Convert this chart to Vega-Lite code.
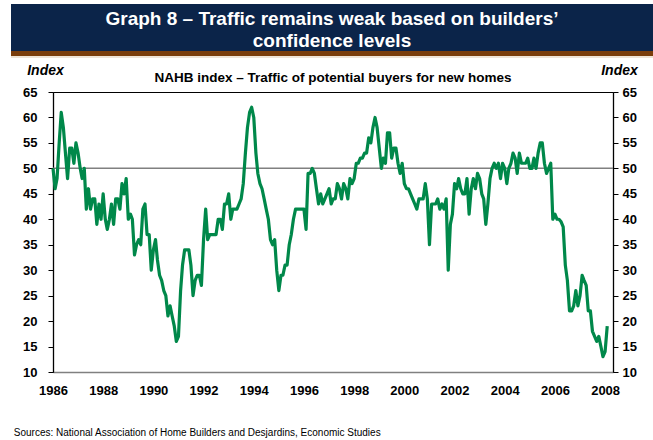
{
  "$schema": "https://vega.github.io/schema/vega-lite/v6.json",
  "padding": {"left": 11, "top": 4, "right": 0, "bottom": 0},
  "background": "white",
  "config": {"font": "Liberation Sans"},
  "spacing": 4,
  "vconcat": [
    {
      "spacing": 0,
      "vconcat": [
        {
          "width": 642,
          "height": 47,
          "view": {"fill": "#0b2449", "stroke": null},
          "data": {"values": [
            {"line": 1, "text": "Graph 8 – Traffic remains weak based on builders’"},
            {"line": 2, "text": "confidence levels"}
          ]},
          "mark": {"type": "text", "color": "white", "font": "Liberation Sans", "fontWeight": "bold", "fontSize": 19, "baseline": "middle"},
          "encoding": {
            "y": {"field": "line", "type": "ordinal", "axis": null, "scale": {"type": "point", "range": [15, 37], "padding": 0}},
            "text": {"field": "text"}
          }
        },
        {
          "width": 642,
          "height": 5,
          "view": {"stroke": null},
          "data": {"values": [{"part": "stripe"}]},
          "mark": {"type": "rect", "color": "#7a3d0b"}
        },
        {
          "width": 642,
          "height": 2,
          "view": {"stroke": null},
          "data": {"values": [{"part": "line"}]},
          "mark": {"type": "rect", "color": "#efe4d6"}
        }
      ]
    },
    {
      "spacing": 0,
      "hconcat": [
        {
          "width": 1,
          "height": 1,
          "view": {"stroke": null},
          "data": {"values": [{"part": "spacer"}]},
          "mark": {"type": "rect", "opacity": 0}
        },
        {
          "width": 560,
          "height": 280,
          "title": {"text": "NAHB index – Traffic of potential buyers for new homes", "font": "Liberation Sans", "fontSize": 13.5, "fontWeight": "bold", "anchor": "middle", "offset": -21, "color": "black"},
          "view": {"stroke": "black", "strokeWidth": 1},
          "resolve": {"axis": {"y": "independent"}},
          "layer": [
            {
              "data": {"values": [{"level": 50}]},
              "mark": {"type": "rule", "color": "#808080", "strokeWidth": 1.5},
              "encoding": {
                "y": {"field": "level", "type": "quantitative", "scale": {"domain": [10, 65], "nice": false, "zero": false},
                  "axis": {"orient": "left", "values": [10,15,20,25,30,35,40,45,50,55,60,65], "grid": false,
                    "title": "Index", "titleAngle": 0, "titleAlign": "center", "titleBaseline": "alphabetic", "titleX": -8, "titleY": -18,
                    "titleFont": "Liberation Sans", "titleFontSize": 14, "titleFontStyle": "italic", "titleFontWeight": "bold", "titleColor": "black",
                    "labelFont": "Liberation Sans", "labelFontSize": 13, "labelFontWeight": "bold", "labelColor": "black", "labelPadding": 11,
                    "labelFlush": false, "labelOverlap": false, "tickSize": 5, "tickColor": "black", "domainColor": "black", "domainWidth": 1.3}}
              }
            },
            {
              "data": {"values": [
                {"date":"1986-01-01","index":50},{"date":"1986-02-01","index":46},{"date":"1986-03-01","index":48},{"date":"1986-04-01","index":55},{"date":"1986-05-01","index":61},{"date":"1986-06-01","index":58},{"date":"1986-07-01","index":53},{"date":"1986-08-01","index":48},{"date":"1986-09-01","index":54},{"date":"1986-10-01","index":54},{"date":"1986-11-01","index":51},{"date":"1986-12-01","index":55},
                {"date":"1987-01-01","index":53},{"date":"1987-02-01","index":50},{"date":"1987-03-01","index":48},{"date":"1987-04-01","index":50},{"date":"1987-05-01","index":42},{"date":"1987-06-01","index":46},{"date":"1987-07-01","index":42},{"date":"1987-08-01","index":44},{"date":"1987-09-01","index":44},{"date":"1987-10-01","index":39},{"date":"1987-11-01","index":43},{"date":"1987-12-01","index":40},
                {"date":"1988-01-01","index":45},{"date":"1988-02-01","index":40},{"date":"1988-03-01","index":38},{"date":"1988-04-01","index":40},{"date":"1988-05-01","index":43},{"date":"1988-06-01","index":39},{"date":"1988-07-01","index":44},{"date":"1988-08-01","index":44},{"date":"1988-09-01","index":42},{"date":"1988-10-01","index":47},{"date":"1988-11-01","index":45},{"date":"1988-12-01","index":48},
                {"date":"1989-01-01","index":40},{"date":"1989-02-01","index":41},{"date":"1989-03-01","index":40},{"date":"1989-04-01","index":33},{"date":"1989-05-01","index":35},{"date":"1989-06-01","index":36},{"date":"1989-07-01","index":35},{"date":"1989-08-01","index":42},{"date":"1989-09-01","index":43},{"date":"1989-10-01","index":37},{"date":"1989-11-01","index":37},{"date":"1989-12-01","index":30},
                {"date":"1990-01-01","index":34},{"date":"1990-02-01","index":36},{"date":"1990-03-01","index":32},{"date":"1990-04-01","index":29},{"date":"1990-05-01","index":28},{"date":"1990-06-01","index":26},{"date":"1990-07-01","index":25},{"date":"1990-08-01","index":21},{"date":"1990-09-01","index":23},{"date":"1990-10-01","index":21},{"date":"1990-11-01","index":19},{"date":"1990-12-01","index":16},
                {"date":"1991-01-01","index":17},{"date":"1991-02-01","index":26},{"date":"1991-03-01","index":31},{"date":"1991-04-01","index":34},{"date":"1991-05-01","index":34},{"date":"1991-06-01","index":34},{"date":"1991-07-01","index":31},{"date":"1991-08-01","index":25},{"date":"1991-09-01","index":28},{"date":"1991-10-01","index":29},{"date":"1991-11-01","index":29},{"date":"1991-12-01","index":27},
                {"date":"1992-01-01","index":36},{"date":"1992-02-01","index":42},{"date":"1992-03-01","index":36},{"date":"1992-04-01","index":37},{"date":"1992-05-01","index":37},{"date":"1992-06-01","index":37},{"date":"1992-07-01","index":37},{"date":"1992-08-01","index":40},{"date":"1992-09-01","index":40},{"date":"1992-10-01","index":38},{"date":"1992-11-01","index":43},{"date":"1992-12-01","index":43},
                {"date":"1993-01-01","index":45},{"date":"1993-02-01","index":40},{"date":"1993-03-01","index":42},{"date":"1993-04-01","index":42},{"date":"1993-05-01","index":42},{"date":"1993-06-01","index":43},{"date":"1993-07-01","index":44},{"date":"1993-08-01","index":47},{"date":"1993-09-01","index":53},{"date":"1993-10-01","index":58},{"date":"1993-11-01","index":61},{"date":"1993-12-01","index":62},
                {"date":"1994-01-01","index":60},{"date":"1994-02-01","index":53},{"date":"1994-03-01","index":49},{"date":"1994-04-01","index":47},{"date":"1994-05-01","index":46},{"date":"1994-06-01","index":44},{"date":"1994-07-01","index":42},{"date":"1994-08-01","index":40},{"date":"1994-09-01","index":36},{"date":"1994-10-01","index":35},{"date":"1994-11-01","index":36},{"date":"1994-12-01","index":30},
                {"date":"1995-01-01","index":26},{"date":"1995-02-01","index":29},{"date":"1995-03-01","index":29},{"date":"1995-04-01","index":31},{"date":"1995-05-01","index":31},{"date":"1995-06-01","index":35},{"date":"1995-07-01","index":37},{"date":"1995-08-01","index":40},{"date":"1995-09-01","index":42},{"date":"1995-10-01","index":42},{"date":"1995-11-01","index":42},{"date":"1995-12-01","index":42},
                {"date":"1996-01-01","index":42},{"date":"1996-02-01","index":38},{"date":"1996-03-01","index":49},{"date":"1996-04-01","index":49},{"date":"1996-05-01","index":50},{"date":"1996-06-01","index":49},{"date":"1996-07-01","index":46},{"date":"1996-08-01","index":43},{"date":"1996-09-01","index":45},{"date":"1996-10-01","index":43},{"date":"1996-11-01","index":44},{"date":"1996-12-01","index":45},
                {"date":"1997-01-01","index":46},{"date":"1997-02-01","index":43},{"date":"1997-03-01","index":44},{"date":"1997-04-01","index":44},{"date":"1997-05-01","index":47},{"date":"1997-06-01","index":46},{"date":"1997-07-01","index":44},{"date":"1997-08-01","index":47},{"date":"1997-09-01","index":46},{"date":"1997-10-01","index":44},{"date":"1997-11-01","index":48},{"date":"1997-12-01","index":47},
                {"date":"1998-01-01","index":48},{"date":"1998-02-01","index":51},{"date":"1998-03-01","index":51},{"date":"1998-04-01","index":52},{"date":"1998-05-01","index":52},{"date":"1998-06-01","index":53},{"date":"1998-07-01","index":53},{"date":"1998-08-01","index":56},{"date":"1998-09-01","index":55},{"date":"1998-10-01","index":58},{"date":"1998-11-01","index":60},{"date":"1998-12-01","index":58},
                {"date":"1999-01-01","index":54},{"date":"1999-02-01","index":50},{"date":"1999-03-01","index":52},{"date":"1999-04-01","index":51},{"date":"1999-05-01","index":57},{"date":"1999-06-01","index":57},{"date":"1999-07-01","index":52},{"date":"1999-08-01","index":54},{"date":"1999-09-01","index":54},{"date":"1999-10-01","index":51},{"date":"1999-11-01","index":49},{"date":"1999-12-01","index":51},
                {"date":"2000-01-01","index":47},{"date":"2000-02-01","index":46},{"date":"2000-03-01","index":46},{"date":"2000-04-01","index":45},{"date":"2000-05-01","index":44},{"date":"2000-06-01","index":43},{"date":"2000-07-01","index":42},{"date":"2000-08-01","index":44},{"date":"2000-09-01","index":44},{"date":"2000-10-01","index":44},{"date":"2000-11-01","index":47},{"date":"2000-12-01","index":44},
                {"date":"2001-01-01","index":35},{"date":"2001-02-01","index":43},{"date":"2001-03-01","index":43},{"date":"2001-04-01","index":43},{"date":"2001-05-01","index":44},{"date":"2001-06-01","index":42},{"date":"2001-07-01","index":43},{"date":"2001-08-01","index":42},{"date":"2001-09-01","index":44},{"date":"2001-10-01","index":30},{"date":"2001-11-01","index":39},{"date":"2001-12-01","index":41},
                {"date":"2002-01-01","index":47},{"date":"2002-02-01","index":46},{"date":"2002-03-01","index":48},{"date":"2002-04-01","index":46},{"date":"2002-05-01","index":45},{"date":"2002-06-01","index":45},{"date":"2002-07-01","index":48},{"date":"2002-08-01","index":41},{"date":"2002-09-01","index":46},{"date":"2002-10-01","index":48},{"date":"2002-11-01","index":46},{"date":"2002-12-01","index":49},
                {"date":"2003-01-01","index":48},{"date":"2003-02-01","index":45},{"date":"2003-03-01","index":44},{"date":"2003-04-01","index":39},{"date":"2003-05-01","index":43},{"date":"2003-06-01","index":48},{"date":"2003-07-01","index":50},{"date":"2003-08-01","index":51},{"date":"2003-09-01","index":50},{"date":"2003-10-01","index":51},{"date":"2003-11-01","index":48},{"date":"2003-12-01","index":51},
                {"date":"2004-01-01","index":50},{"date":"2004-02-01","index":47},{"date":"2004-03-01","index":50},{"date":"2004-04-01","index":51},{"date":"2004-05-01","index":53},{"date":"2004-06-01","index":52},{"date":"2004-07-01","index":49},{"date":"2004-08-01","index":53},{"date":"2004-09-01","index":51},{"date":"2004-10-01","index":51},{"date":"2004-11-01","index":51},{"date":"2004-12-01","index":52},
                {"date":"2005-01-01","index":50},{"date":"2005-02-01","index":50},{"date":"2005-03-01","index":52},{"date":"2005-04-01","index":50},{"date":"2005-05-01","index":53},{"date":"2005-06-01","index":55},{"date":"2005-07-01","index":55},{"date":"2005-08-01","index":51},{"date":"2005-09-01","index":49},{"date":"2005-10-01","index":50},{"date":"2005-11-01","index":51},{"date":"2005-12-01","index":40},
                {"date":"2006-01-01","index":41},{"date":"2006-02-01","index":40},{"date":"2006-03-01","index":40},{"date":"2006-04-01","index":39.5},{"date":"2006-05-01","index":38.5},{"date":"2006-06-01","index":31},{"date":"2006-07-01","index":28},{"date":"2006-08-01","index":22},{"date":"2006-09-01","index":22},{"date":"2006-10-01","index":23},{"date":"2006-11-01","index":26},{"date":"2006-12-01","index":23},
                {"date":"2007-01-01","index":25},{"date":"2007-02-01","index":29},{"date":"2007-03-01","index":28},{"date":"2007-04-01","index":27},{"date":"2007-05-01","index":22},{"date":"2007-06-01","index":22},{"date":"2007-07-01","index":18},{"date":"2007-08-01","index":17},{"date":"2007-09-01","index":16},{"date":"2007-10-01","index":17},{"date":"2007-11-01","index":15},{"date":"2007-12-01","index":13},
                {"date":"2008-01-01","index":14},{"date":"2008-02-01","index":19}
              ]},
              "mark": {"type": "line", "color": "#00884a", "strokeWidth": 3.2, "strokeJoin": "round"},
              "encoding": {
                "x": {"field": "date", "type": "temporal",
                  "scale": {"type": "utc", "domain": [{"year": 1986, "month": 1, "date": 1, "utc": true}, {"year": 2008, "month": 4, "date": 25, "utc": true}], "nice": false},
                  "axis": {"orient": "bottom", "format": "%Y", "grid": false, "ticks": false, "tickSize": 0,
                    "values": [{"year":1986,"utc":true},{"year":1988,"utc":true},{"year":1990,"utc":true},{"year":1992,"utc":true},{"year":1994,"utc":true},{"year":1996,"utc":true},{"year":1998,"utc":true},{"year":2000,"utc":true},{"year":2002,"utc":true},{"year":2004,"utc":true},{"year":2006,"utc":true},{"year":2008,"utc":true}],
                    "labelFont": "Liberation Sans", "labelFontSize": 13, "labelFontWeight": "bold", "labelColor": "black", "labelPadding": 12,
                    "labelFlush": false, "labelOverlap": false, "domainColor": "#808080", "domainWidth": 1.6,
                    "title": "Sources: National Association of Home Builders and Desjardins, Economic Studies",
                    "titleFont": "Liberation Sans", "titleFontSize": 10, "titleFontWeight": "normal", "titleColor": "black",
                    "titleAlign": "left", "titleBaseline": "alphabetic", "titleX": -39.7, "titleY": 63}},
                "y": {"field": "index", "type": "quantitative", "scale": {"domain": [10, 65], "nice": false, "zero": false},
                  "axis": {"orient": "right", "values": [10,15,20,25,30,35,40,45,50,55,60,65], "grid": false,
                    "title": "Index", "titleAngle": 0, "titleAlign": "center", "titleBaseline": "alphabetic", "titleX": 6, "titleY": -18,
                    "titleFont": "Liberation Sans", "titleFontSize": 14, "titleFontStyle": "italic", "titleFontWeight": "bold", "titleColor": "black",
                    "labelFont": "Liberation Sans", "labelFontSize": 13, "labelFontWeight": "bold", "labelColor": "black", "labelPadding": 4,
                    "labelFlush": false, "labelOverlap": false, "tickSize": 5, "tickColor": "black", "domainColor": "black", "domainWidth": 1.3}}
              }
            }
          ]
        }
      ]
    }
  ]
}
